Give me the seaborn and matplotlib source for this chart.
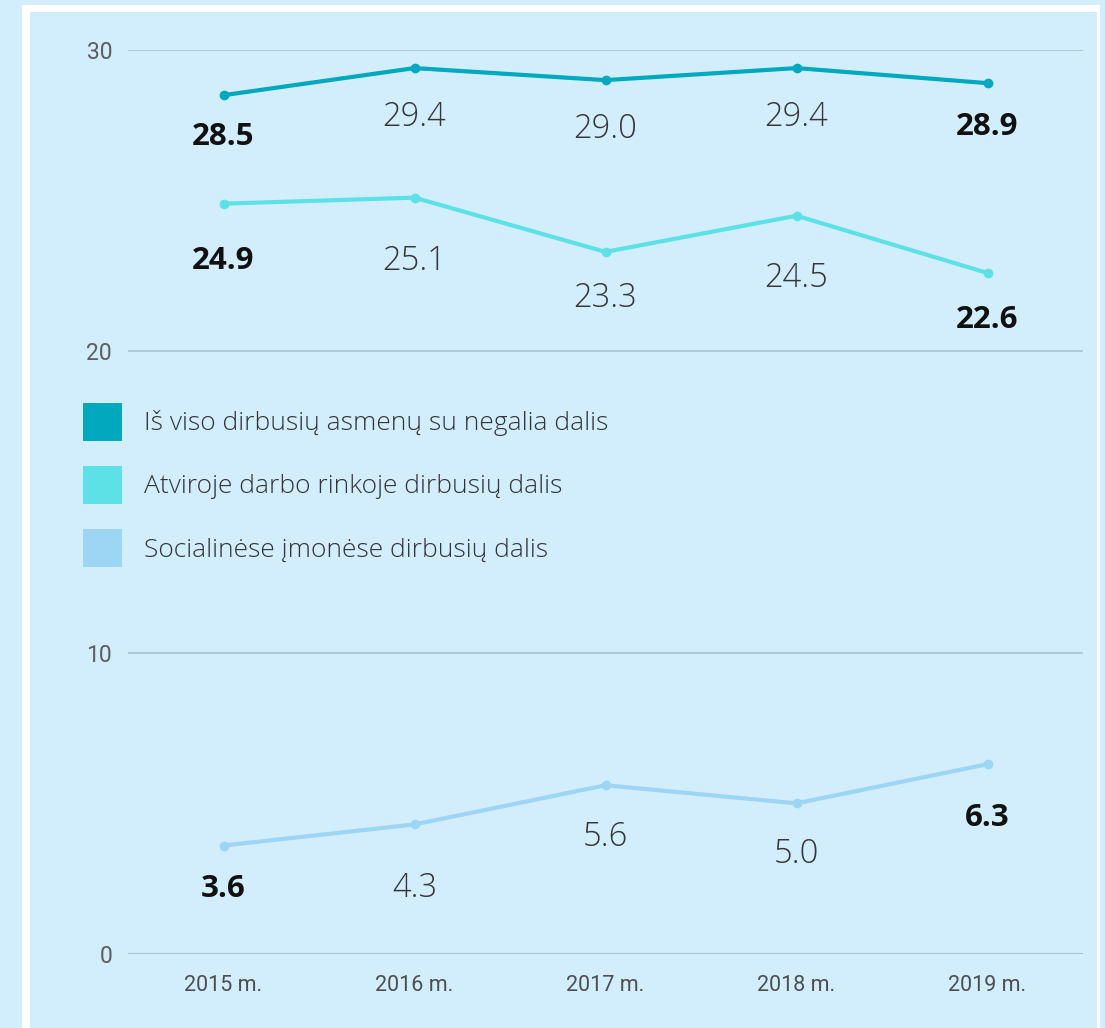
import matplotlib
matplotlib.use("Agg")
import matplotlib.pyplot as plt
from matplotlib.patches import Patch, Rectangle
import seaborn as sns
import pandas as pd

# ---- data ----
years = ["2015 m.", "2016 m.", "2017 m.", "2018 m.", "2019 m."]
series_names = [
    "Iš viso dirbusių asmenų su negalia dalis",
    "Atviroje darbo rinkoje dirbusių dalis",
    "Socialinėse įmonėse dirbusių dalis",
]
total_share = [28.5, 29.4, 29.0, 29.4, 28.9]
open_market_share = [24.9, 25.1, 23.3, 24.5, 22.6]
social_enterprise_share = [3.6, 4.3, 5.6, 5.0, 6.3]
y_ticks = [0, 10, 20, 30]

# ---- styling ----
colors = ["#00a9bd", "#5ce1e6", "#9dd5f5"]
bg = "#d2eefd"
# label offsets below each point (pixels)
label_offsets = [
    [42, 49, 49, 49, 44],
    [57, 64, 46, 63, 47],
    [43, 64, 52, 51, 54],
]
bold_idx = {0, 4}

sns.set_theme(style="white")
plt.rcParams["font.family"] = ["Open Sans", "DejaVu Sans"]

values = [total_share, open_market_share, social_enterprise_share]
df = pd.DataFrame({
    "year": [y for _ in series_names for y in years],
    "value": [v for s in values for v in s],
    "series": [n for n in series_names for _ in years],
})

W, H = 1105, 1028
fig = plt.figure(figsize=(W / 100, H / 100), dpi=100)
fig.patch.set_facecolor(bg)
# white frame
fig.add_artist(Rectangle((22 / W, 0), (1100 - 22) / W, (H - 5) / H,
                         transform=fig.transFigure, facecolor="white",
                         edgecolor="none", zorder=-10))
fig.add_artist(Rectangle((30 / W, 0), (1097 - 30) / W, (H - 12) / H,
                         transform=fig.transFigure, facecolor=bg,
                         edgecolor="none", zorder=-9))

ax = fig.add_axes([128 / W, 1 - 954 / H, (1083 - 128) / W, (954 - 50) / H])
ax.set_facecolor("none")

sns.lineplot(data=df, x="year", y="value", hue="series", palette=colors,
             hue_order=series_names, marker="o", markersize=7,
             markeredgewidth=0, linewidth=3, ax=ax, legend=False,
             sort=False, zorder=3)
for line in ax.lines:
    line.set_clip_on(False)

ax.set_xlim(-0.5, 4.5)
ax.set_ylim(0, 30)
ax.set_yticks(y_ticks)
ax.set_xlabel("")
ax.set_ylabel("")
for s in ax.spines.values():
    s.set_visible(False)
for t in y_ticks:
    ax.axhline(t, color="#a8c3cf", linewidth=1.2 if t else 2.2, zorder=1)
ax.tick_params(axis="y", length=0, pad=11.5, labelsize=16.5, labelcolor="#5e5e5e")
ax.tick_params(axis="x", length=0, pad=15, labelsize=15.5, labelcolor="#4e4e4e")
for lbl in ax.get_xticklabels() + ax.get_yticklabels():
    lbl.set_fontfamily(["Roboto", "DejaVu Sans"])
    lbl.set_fontweight("normal")

for si, vals in enumerate(values):
    for i, v in enumerate(vals):
        bold = i in bold_idx
        ax.annotate(f"{v:.1f}", (i, v), xytext=(0, -label_offsets[si][i] * 0.72),
                    textcoords="offset points", ha="center", va="center",
                    fontsize=22.5 if bold else 23.5,
                    fontweight="bold" if bold else "light",
                    color="#111111" if bold else "#363636")

handles = [Patch(facecolor=c, edgecolor="none") for c in colors]
leg = fig.legend(handles, series_names, loc="upper left",
                 bbox_to_anchor=(80 / W, 1 - 400 / H), frameon=False,
                 prop={"family": ["Open Sans", "DejaVu Sans"], "size": 19,
                       "weight": "light"},
                 handlelength=1.48, handleheight=1.85,
                 handletextpad=0.85, labelspacing=0.95, borderaxespad=0,
                 borderpad=0.1)
for t in leg.get_texts():
    t.set_color("#333333")

fig.savefig("out.png", dpi=100, facecolor=bg)
